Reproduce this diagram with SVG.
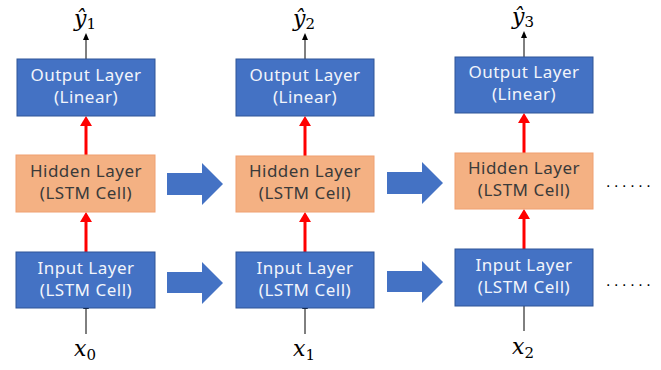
<svg xmlns="http://www.w3.org/2000/svg" width="661" height="370" viewBox="0 0 661 370">
<defs>
<style>
.blue{fill:#4472C4;stroke:#2F5597;stroke-width:1}
.hid{fill:#F4B183;stroke:#F0A070;stroke-width:1}
.bt{font-family:"Noto Sans","Open Sans",sans-serif;font-size:17px;letter-spacing:0.5px;fill:#F2F5FB;text-anchor:middle}
.ht{font-family:"Noto Sans","Open Sans",sans-serif;font-size:17px;letter-spacing:0.5px;fill:#3A3A3A;text-anchor:middle}
.math{font-family:"DejaVu Serif","Liberation Serif",serif;font-style:italic;font-size:22px;fill:#000}
.sub{font-style:normal;font-size:15px}
.red{stroke:#FF0000;stroke-width:3;fill:none}
.blk{stroke:#000;stroke-width:1;fill:none}
.big{fill:#4472C4}
.rh{fill:#FF0000}
.dots{font-family:"Liberation Sans",sans-serif;font-size:16px;letter-spacing:3.6px;fill:#000}
</style>
<marker id="bh" markerWidth="6" markerHeight="7" refX="3" refY="7" markerUnits="userSpaceOnUse" viewBox="0 0 6 7">
<path d="M0,7 L3,0 L6,7 Z" fill="#000"/>
</marker>
</defs>
<rect width="661" height="370" fill="#fff"/>
<g id="connectors">
<path d="M86,155 V120" class="red"/>
<path d="M86,252 V217" class="red"/>
<path d="M305,156 V120" class="red"/>
<path d="M305,252 V217" class="red"/>
<path d="M524,153 V117" class="red"/>
<path d="M524,249 V214" class="red"/>
<path class="rh" d="M80,126 L86,116 L92,126 Z"/>
<path class="rh" d="M80,222 L86,212 L92,222 Z"/>
<path class="rh" d="M299,126 L305,116 L311,126 Z"/>
<path class="rh" d="M299,222 L305,212 L311,222 Z"/>
<path class="rh" d="M518,123 L524,113 L530,123 Z"/>
<path class="rh" d="M518,219 L524,209 L530,219 Z"/>
<path d="M86,59 V40" class="blk" marker-end="url(#bh)"/>
<path d="M305,59 V40" class="blk" marker-end="url(#bh)"/>
<path d="M524,57 V38" class="blk" marker-end="url(#bh)"/>
<path d="M86,334 V309" class="blk" marker-end="url(#bh)"/>
<path d="M305,334 V309" class="blk" marker-end="url(#bh)"/>
<path d="M524,331 V306" class="blk" marker-end="url(#bh)"/>
<path class="big" d="M167,173 H202 V163 L223,184 L202,205 V195 H167 Z"/>
<path class="big" d="M167,272 H202 V262 L223,283 L202,304 V293 H167 Z"/>
<path class="big" d="M387,172 H422 V162 L443,183 L422,204 V194 H387 Z"/>
<path class="big" d="M387,271 H422 V261 L443,282 L422,303 V292 H387 Z"/>
</g>
<g id="out1"><rect class="blue" x="17" y="59" width="138" height="57"/><text class="bt" x="86" y="81">Output Layer</text><text class="bt" x="86" y="103">(Linear)</text></g>
<g id="hid1"><rect class="hid" x="16" y="155" width="139" height="57"/><text class="ht" x="86" y="177">Hidden Layer</text><text class="ht" x="86" y="199">(LSTM Cell)</text></g>
<g id="in1"><rect class="blue" x="16" y="252" width="139" height="56"/><text class="bt" x="86" y="274">Input Layer</text><text class="bt" x="86" y="296">(LSTM Cell)</text></g>
<g id="out2"><rect class="blue" x="236" y="59" width="138" height="57"/><text class="bt" x="305" y="81">Output Layer</text><text class="bt" x="305" y="103">(Linear)</text></g>
<g id="hid2"><rect class="hid" x="236" y="156" width="138" height="56"/><text class="ht" x="305" y="177">Hidden Layer</text><text class="ht" x="305" y="199">(LSTM Cell)</text></g>
<g id="in2"><rect class="blue" x="236" y="252" width="138" height="56"/><text class="bt" x="305" y="274">Input Layer</text><text class="bt" x="305" y="296">(LSTM Cell)</text></g>
<g id="out3"><rect class="blue" x="455" y="57" width="138" height="56"/><text class="bt" x="524" y="78">Output Layer</text><text class="bt" x="524" y="100">(Linear)</text></g>
<g id="hid3"><rect class="hid" x="455" y="153" width="138" height="56"/><text class="ht" x="524" y="174">Hidden Layer</text><text class="ht" x="524" y="196">(LSTM Cell)</text></g>
<g id="in3"><rect class="blue" x="455" y="249" width="138" height="57"/><text class="bt" x="524" y="271">Input Layer</text><text class="bt" x="524" y="293">(LSTM Cell)</text></g>
<g id="y1"><text class="math" x="74" y="26">ŷ<tspan class="sub" dy="3">1</tspan></text></g>
<g id="y2"><text class="math" x="293" y="26">ŷ<tspan class="sub" dy="3">2</tspan></text></g>
<g id="y3"><text class="math" x="512" y="24">ŷ<tspan class="sub" dy="3">3</tspan></text></g>
<g id="x0"><text class="math" x="74" y="356">x<tspan class="sub" dy="4">0</tspan></text></g>
<g id="x1"><text class="math" x="293" y="356">x<tspan class="sub" dy="4">1</tspan></text></g>
<g id="x2"><text class="math" x="512" y="354">x<tspan class="sub" dy="4">2</tspan></text></g>
<g id="dots1"><text class="dots" x="606" y="187">......</text></g>
<g id="dots2"><text class="dots" x="606" y="286">......</text></g>
</svg>
